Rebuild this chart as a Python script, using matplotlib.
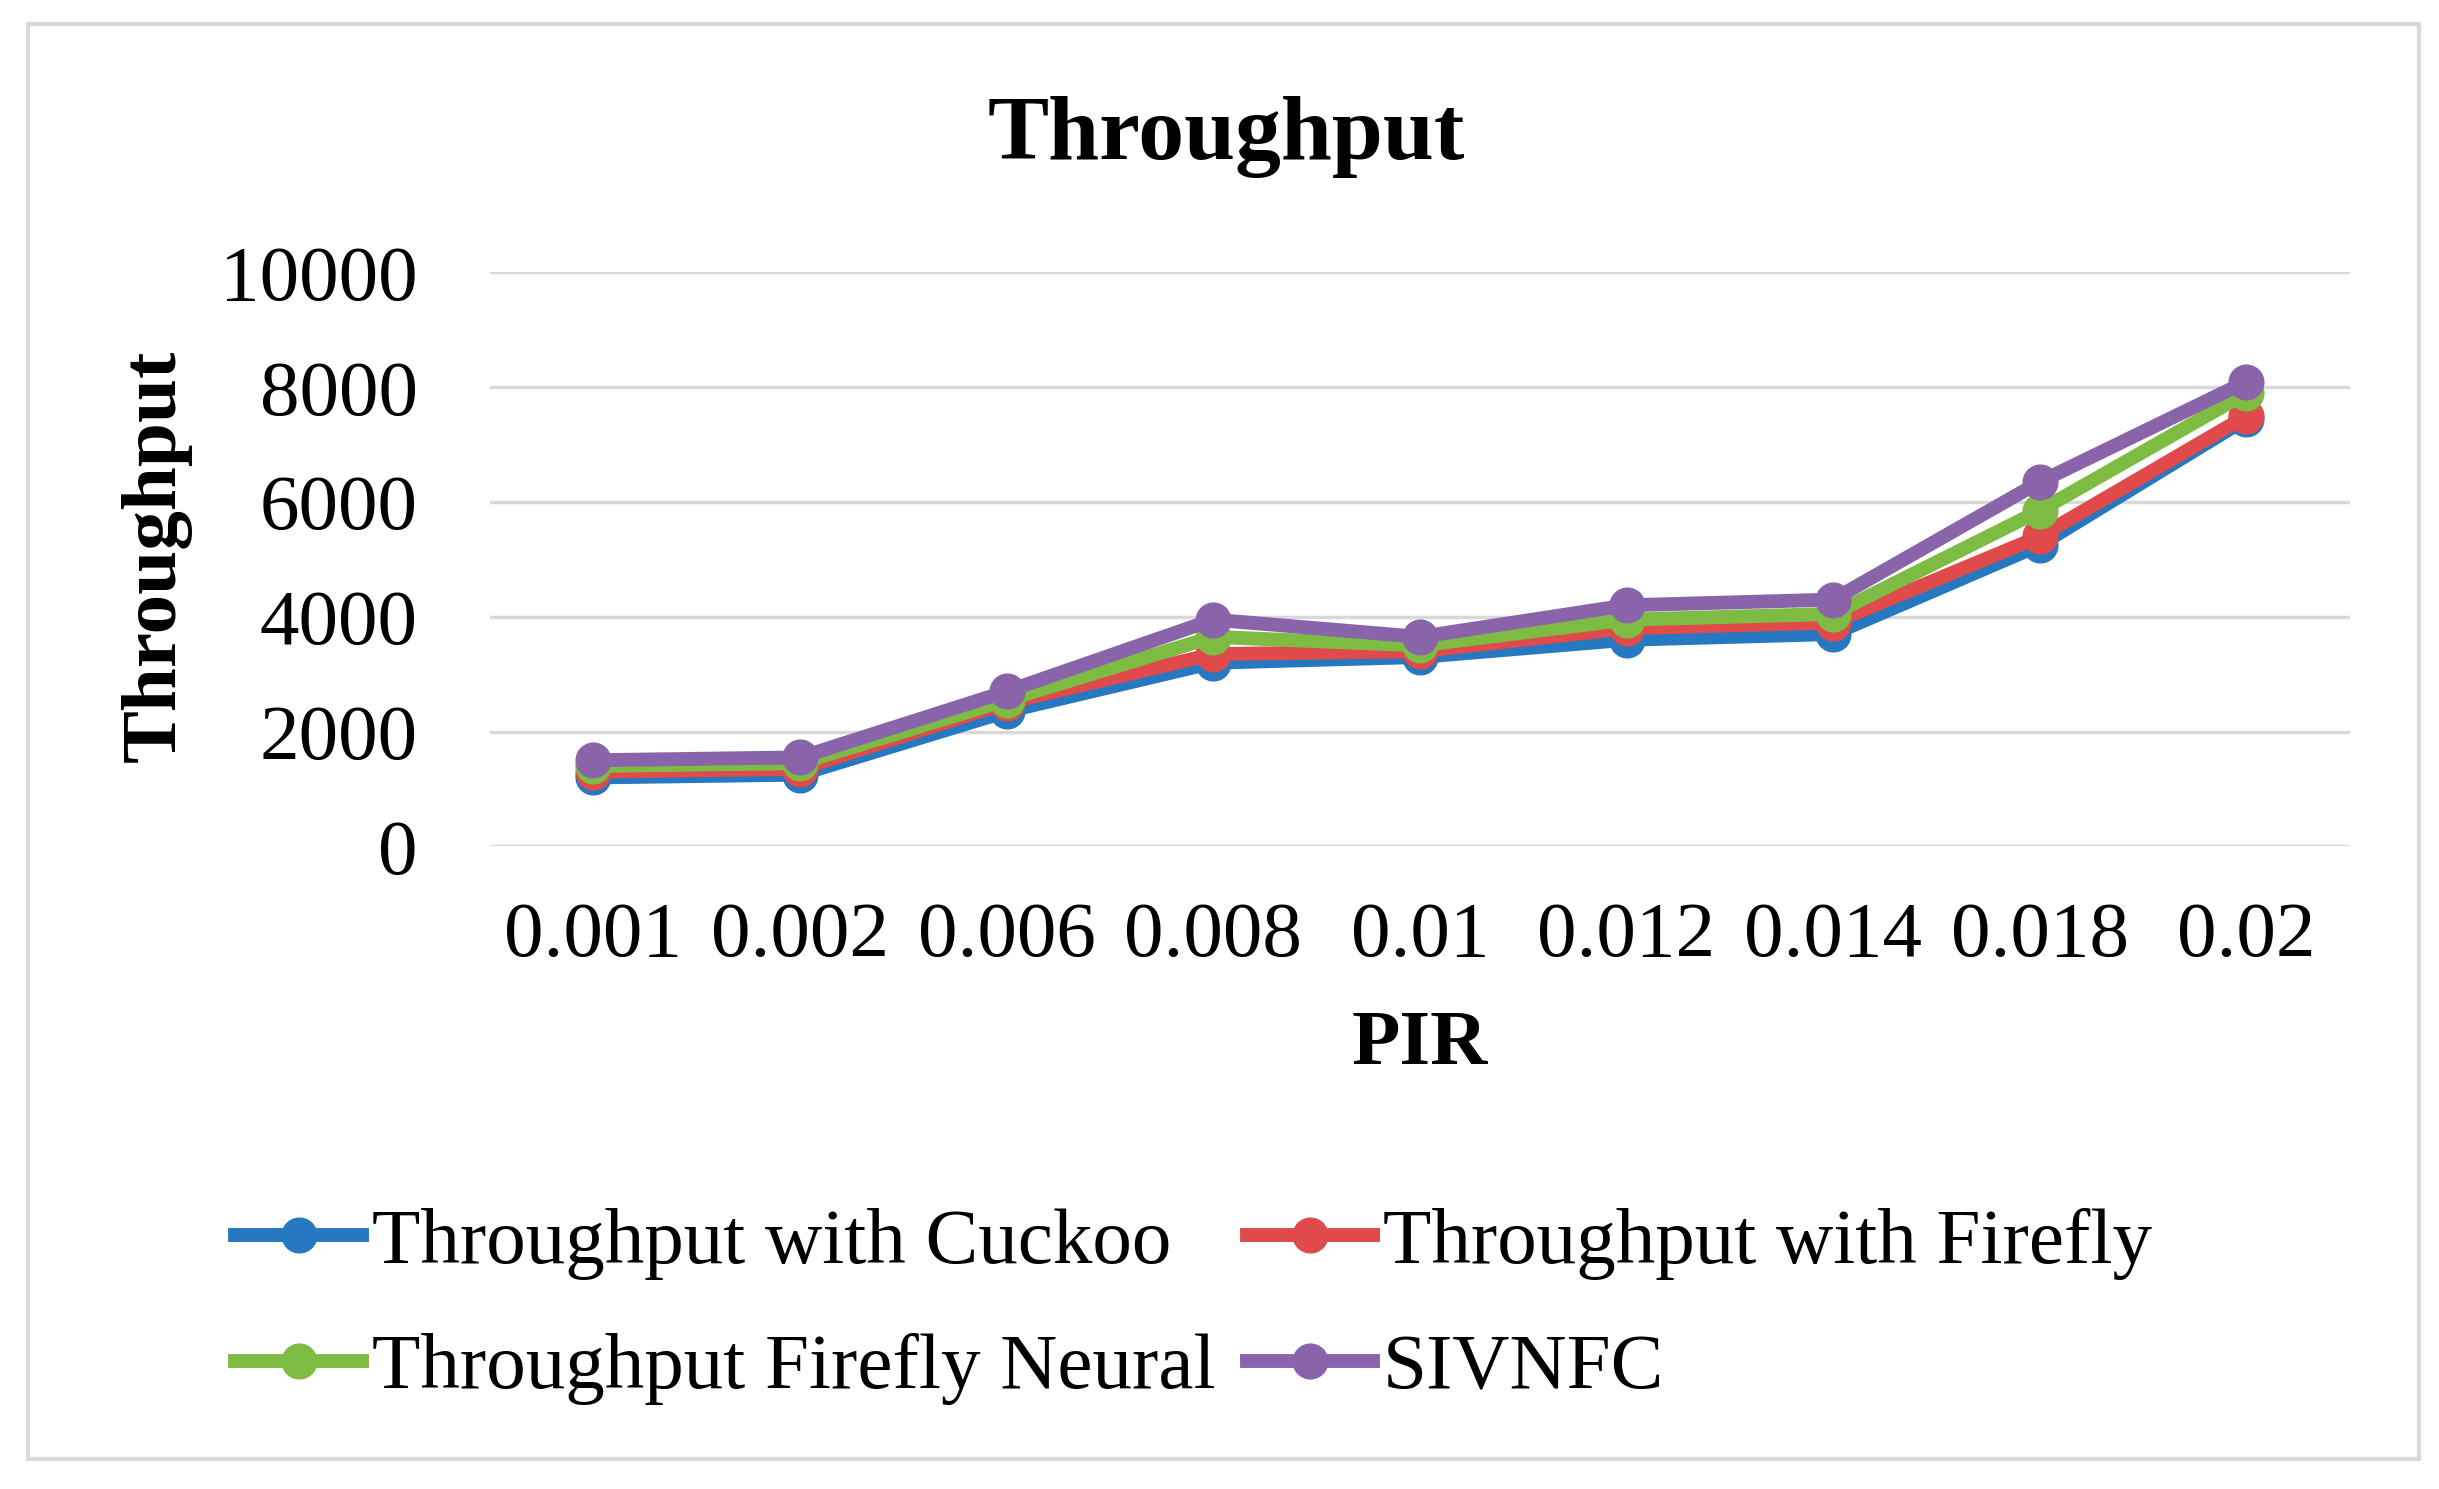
import numpy as np
import matplotlib.pyplot as plt
from matplotlib.patches import Rectangle

pir = ["0.001", "0.002", "0.006", "0.008", "0.01", "0.012", "0.014", "0.018", "0.02"]
cuckoo = [1200, 1250, 2350, 3200, 3300, 3600, 3700, 5250, 7450]
firefly = [1300, 1350, 2500, 3350, 3400, 3800, 3900, 5400, 7500]
firefly_neural = [1400, 1450, 2550, 3650, 3500, 3950, 4050, 5850, 7900]
sivnfc = [1500, 1550, 2700, 3950, 3650, 4200, 4300, 6350, 8100]

names = ["Throughput with Cuckoo", "Throughput with Firefly",
         "Throughput Firefly Neural", "SIVNFC"]
colors = ["#2678C0", "#E04A4A", "#7DBB42", "#8A64AA"]

plt.rcParams['font.family'] = ['Liberation Serif', 'DejaVu Serif']

fig = plt.figure(figsize=(24.39, 14.89), dpi=100)
ax = fig.add_axes([0.2009, 0.4316, 0.7625, 0.3854])

x = np.arange(len(pir))
lines = []
for vals, name, c in zip([cuckoo, firefly, firefly_neural, sivnfc], names, colors):
    l, = ax.plot(x, vals, color=c, lw=10, marker='o', ms=25, label=name,
                 solid_joinstyle='round')
    lines.append(l)

ax.set_xlim(-0.5, len(pir) - 0.5)
ax.set_ylim(0, 10000)
ax.set_yticks(range(0, 10001, 2000))
ax.set_xticks(x)
ax.set_xticklabels(pir)
ax.tick_params(axis='both', length=0, labelsize=57)
ax.tick_params(axis='x', pad=40)
ax.tick_params(axis='y', pad=52)
ax.grid(axis='y', color='#D9D9D9', lw=2.5)
ax.set_axisbelow(True)
for s in ax.spines.values():
    s.set_visible(False)

fig.text(0.5026, 0.908, "Throughput", fontsize=66, fontweight='bold',
         ha='center', va='center')
fig.text(0.064, 0.627, "Throughput", fontsize=57, fontweight='bold',
         ha='center', va='center', rotation=90)
fig.text(0.582, 0.298, "PIR", fontsize=57, fontweight='bold',
         ha='center', va='center')

fig.patches.append(Rectangle((0.0115, 0.0199), 0.9802, 0.9641, transform=fig.transFigure,
                             fill=False, edgecolor='#D9D9D9', lw=3))

# row-wise order like the original legend
order = [0, 2, 1, 3]
leg = fig.legend([lines[i] for i in order], [names[i] for i in order],
                 loc='upper left', bbox_to_anchor=(0.0965, 0.189), ncol=2,
                 fontsize=57, frameon=False, handlelength=1.6, handletextpad=0.12,
                 columnspacing=0.4, labelspacing=0.67, borderpad=0, borderaxespad=0)

fig.savefig('out.png', dpi=100)
